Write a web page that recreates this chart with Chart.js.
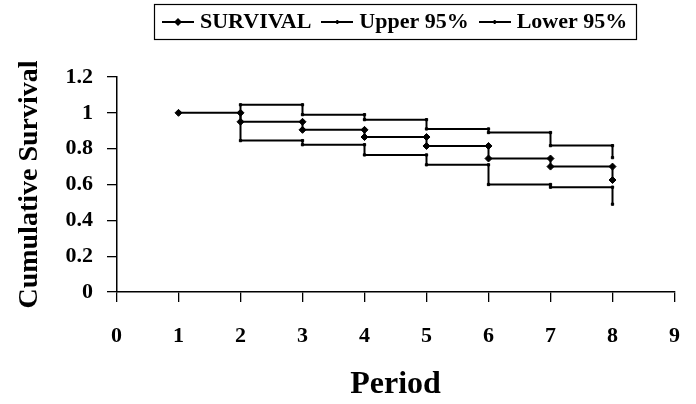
<!DOCTYPE html>
<html><head><meta charset="utf-8">
<script src="https://cdn.jsdelivr.net/npm/chart.js@4/dist/chart.umd.min.js"></script>
<style>html,body{margin:0;padding:0;background:#fff;} #wrap{width:696px;height:404px;position:relative;background:#fff;}</style>
</head><body><div id="wrap"><canvas id="c" width="696" height="404"></canvas></div>
<script>
const periods = [1, 2, 3, 4, 5, 6, 7, 8];
const survival = [1.0, 0.95, 0.905, 0.865, 0.815, 0.745, 0.70, 0.625];
const upper95 = [1.0, 1.045, 0.99, 0.962, 0.91, 0.89, 0.817, 0.75];
const lower95 = [1.0, 0.845, 0.822, 0.765, 0.71, 0.60, 0.585, 0.49];
const xTicks = [0, 1, 2, 3, 4, 5, 6, 7, 8, 9];
const yTicks = [0, 0.2, 0.4, 0.6, 0.8, 1, 1.2];
const yTickLabels = ['0', '0.2', '0.4', '0.6', '0.8', '1', '1.2'];
const seriesNames = ['SURVIVAL', 'Upper 95%', 'Lower 95%'];

const FONT = "'Liberation Serif', 'Times New Roman', serif";

function stepPoints(vals, includeFirst) {
  const pts = [];
  if (includeFirst) pts.push({x: periods[0], y: vals[0]});
  for (let i = 1; i < periods.length; i++) {
    pts.push({x: periods[i], y: vals[i - 1]});
    pts.push({x: periods[i], y: vals[i]});
  }
  return pts;
}

function legendIcon(kind) {
  const cv = document.createElement('canvas');
  cv.width = 32; cv.height = 10;
  const g = cv.getContext('2d');
  g.strokeStyle = '#000'; g.lineWidth = 2;
  g.beginPath(); g.moveTo(0, 5); g.lineTo(32, 5); g.stroke();
  g.fillStyle = '#000';
  if (kind === 'diamond') {
    g.beginPath(); g.moveTo(16, 1); g.lineTo(20, 5); g.lineTo(16, 9); g.lineTo(12, 5); g.closePath(); g.fill();
  } else {
    g.fillRect(15, 3, 2, 4);
  }
  return cv;
}
const icons = [legendIcon('diamond'), legendIcon('tick'), legendIcon('tick')];

const legendPlace = {
  id: 'legendPlace',
  afterLayout(chart) {
    const lg = chart.legend;
    const pad = lg.options.labels.padding;
    const start = (lg.left + pad + lg.right - lg.lineWidths[0]) / 2;
    const dx = 167 - start;
    const dy = -4 - lg.top;
    lg.left += dx; lg.right += dx; lg.top += dy; lg.bottom += dy;
  },
  afterDraw(chart) {
    const ctx = chart.ctx;
    ctx.save();
    ctx.strokeStyle = '#000';
    ctx.lineWidth = 1.2;
    ctx.strokeRect(154.5, 4.5, 482, 35);
    ctx.restore();
  }
};

const lineStyle = {borderColor: '#000', backgroundColor: '#000', borderWidth: 2, showLine: true, fill: false, tension: 0};

new Chart(document.getElementById('c'), {
  type: 'scatter',
  data: {
    datasets: [
      Object.assign({label: seriesNames[0], data: stepPoints(survival, true), pointStyle: 'rectRot', pointRadius: 3.5, pointBorderWidth: 1}, lineStyle),
      Object.assign({label: seriesNames[1], data: stepPoints(upper95, false), pointStyle: 'rect', pointRadius: 1.6, pointBorderWidth: 1}, lineStyle),
      Object.assign({label: seriesNames[2], data: stepPoints(lower95, false), pointStyle: 'rect', pointRadius: 1.6, pointBorderWidth: 1}, lineStyle)
    ]
  },
  options: {
    responsive: false,
    animation: false,
    devicePixelRatio: 1,
    layout: {padding: {left: 0, right: 21.5, top: 30, bottom: 0}},
    plugins: {
      tooltip: {enabled: false},
      legend: {
        display: true,
        position: 'top',
        labels: {
          usePointStyle: true,
          pointStyleWidth: 22,
          padding: 15,
          color: '#000',
          font: {family: FONT, size: 22, weight: 'bold'},
          generateLabels(chart) {
            return chart.data.datasets.map((ds, i) => ({
              text: ds.label, pointStyle: icons[i], fillStyle: '#000', strokeStyle: '#000',
              lineWidth: 0, hidden: false, datasetIndex: i, fontColor: '#000'
            }));
          }
        }
      }
    },
    scales: {
      x: {
        type: 'linear', min: 0, max: 9,
        afterBuildTicks: s => { s.ticks = xTicks.map(v => ({value: v})); },
        afterFit: s => { s.height = 112; s.paddingRight = 0; s.paddingLeft = 0; },
        grid: {drawOnChartArea: false, drawTicks: true, tickLength: 10, color: '#000', lineWidth: 1.3},
        border: {color: '#000', width: 1.5},
        ticks: {color: '#000', padding: 21, maxRotation: 0, font: {family: FONT, size: 22, weight: 'bold'}},
        title: {display: true, text: 'Period', color: '#000', font: {family: FONT, size: 32, weight: 'bold', lineHeight: 1.2}, padding: {top: 0, bottom: 0}}
      },
      y: {
        type: 'linear', min: 0, max: 1.2,
        afterBuildTicks: s => { s.ticks = yTicks.map(v => ({value: v})); },
        afterFit: s => { s.width = 116.5; },
        grid: {drawOnChartArea: false, drawTicks: true, tickLength: 9.5, color: '#000', lineWidth: 1.3},
        border: {color: '#000', width: 1.5},
        ticks: {color: '#000', padding: 14, font: {family: FONT, size: 22, weight: 'bold'},
          callback: (v, i) => yTickLabels[i]},
        title: {display: true, text: 'Cumulative Survival', color: '#000', font: {family: FONT, size: 28, weight: 'bold', lineHeight: 1.2}, padding: {top: 13, bottom: 0}}
      }
    }
  },
  plugins: [legendPlace]
});
</script>
</body></html>
